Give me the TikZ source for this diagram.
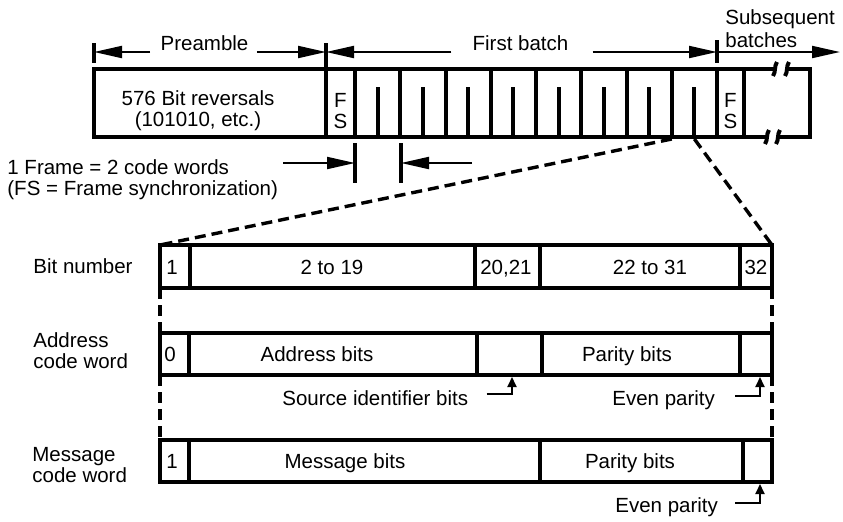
\documentclass[tikz,border=0pt]{standalone}
\usepackage{fontspec}
\setmainfont{Liberation Sans}
\usetikzlibrary{arrows.meta,calc}
\tikzset{
  txt/.style    = {inner sep=0pt, font=\fontsize{10.25}{10.5}\selectfont},
  wbox/.style   = {line width=2pt, line join=miter},
  dvd/.style    = {line width=2pt},
  tck/.style    = {line width=2pt},
  dim/.style    = {line width=1pt, -{Triangle[length=14pt,width=6pt]}},
  ldr/.style    = {line width=1pt, -{Triangle[length=5pt,width=4.5pt]}},
  zoomln/.style = {line width=1.7pt, dash pattern=on 5.5pt off 3pt},
  brk/.style    = {line width=2pt},
}
\begin{document}
\begin{tikzpicture}[x=0.5pt,y=-0.5pt]
  \useasboundingbox (0,0) rectangle (843,521);

  % batch row
  \draw[wbox] (773,69) -- (94,69) -- (94,137) -- (765,137);
  \draw[wbox] (789,69) -- (810,69) -- (810,137) -- (780,137);
  \foreach \x in {326,744} \draw[dvd] (\x,69) -- (\x,137);
  \foreach \k in {0,...,8} \draw[dvd] ({355+45.25*\k},69) -- ({355+45.25*\k},137);
  \foreach \k in {0,...,7} \draw[dvd] ({377.6+45.25*\k},87) -- ({377.6+45.25*\k},137);
  % break marks
  \foreach \bx/\by in {775/69, 787/69, 767/137, 778/137}
    \draw[brk] (\bx+2,\by-7) .. controls (\bx-1,\by-3) and (\bx+1,\by+3) .. (\bx-2,\by+7);

  \node[txt, align=center] (rev) at (198,111) {576 Bit reversals\\(101010, etc.)};
  \node[txt, align=center] (fs1) at (340.5,111) {F\\S};
  \node[txt, align=center] (fs2) at (730.5,111) {F\\S};

  % dimension arrows on top
  \node[txt, anchor=base] (pre) at (204.5,50) {Preamble};
  \node[txt, anchor=base] (fb) at (520.5,50) {First batch};
  \node[txt, anchor=north west, align=left] (sub) at (725,9) {Subsequent\\[1pt]batches};
  \coordinate (pl) at (94,52);
  \coordinate (pr) at (326,52);
  \coordinate (fr) at (717,52);
  \coordinate (se) at (840,52);
  \draw[tck] (94,43) -- (94,63);
  \draw[tck] (326,43) -- (326,69);
  \draw[tck] (717,40) -- (717,63);
  \draw[dim] ([xshift=-5pt]pre.west |- pl) -- (pl);
  \draw[dim] ([xshift=4pt]pre.east |- pl) -- (pr);
  \draw[dim] ([xshift=-10.5pt]fb.west |- pl) -- (pr);
  \draw[dim] ([xshift=12pt]fb.east |- pl) -- (fr);
  \draw[dim] (fr) -- (se);

  % one frame
  \node[txt, anchor=north west, align=left] (frm) at (7,159) {1 Frame = 2 code words\\(FS = Frame synchronization)};
  \coordinate (fwl) at (355,163);
  \coordinate (fwr) at (401,163);
  \coordinate (fwa) at (283,163);
  \coordinate (fwb) at (472,163);
  \draw[tck] (355,143) -- (355,183);
  \draw[tck] (401,143) -- (401,183);
  \draw[dim] (fwa) -- (fwl);
  \draw[dim] (fwb) -- (fwr);

  % zoom into one code word
  \coordinate (cwl) at (671.75,139);
  \coordinate (cwr) at (694.4,139);
  \coordinate (bnl) at (160,245);
  \coordinate (bnr) at (772,245);
  \draw[zoomln] (cwl) -- (bnl);
  \draw[zoomln] (cwr) -- (bnr);
  \foreach \x in {160,772} {
    \draw[zoomln] (\x,288) -- (\x,333);
    \draw[zoomln] (\x,375) -- (\x,440);
  }

  % code word boxes
  \foreach \yt/\yb in {245/288, 333/375, 440/482}
    \draw[wbox] (160,\yt) rectangle (772,\yb);
  \foreach \x in {190,475,540,740} \draw[dvd] (\x,245) -- (\x,288);
  \foreach \x in {189,477,542,740} \draw[dvd] (\x,333) -- (\x,375);
  \foreach \x in {189,540,743} \draw[dvd] (\x,440) -- (\x,482);

  \node[txt, anchor=base west] (bnlbl) at (33,273) {Bit number};
  \node[txt, anchor=north west, align=left] (adlbl) at (33,332) {Address\\code word};
  \node[txt, anchor=north west, align=left] (mslbl) at (32,447) {Message\\code word};

  \node[txt, anchor=base west] (b1) at (166,274) {1};
  \node[txt, anchor=base] (b2) at (332,274) {2 to 19};
  \node[txt, anchor=base] (b20) at (506,274) {20,21};
  \node[txt, anchor=base] (b22) at (650,274) {22 to 31};
  \node[txt, anchor=base] (b32) at (756,274) {32};

  \node[txt, anchor=base west] (a0) at (164,361.5) {0};
  \node[txt, anchor=base] (abits) at (317,361.5) {Address bits};
  \node[txt, anchor=base] (apar) at (627,361.5) {Parity bits};

  \node[txt, anchor=base west] (m1) at (166,468.5) {1};
  \node[txt, anchor=base] (mbits) at (345,468.5) {Message bits};
  \node[txt, anchor=base] (mpar) at (630,468.5) {Parity bits};

  % leaders
  \node[txt, anchor=base west] (src) at (282,405) {Source identifier bits};
  \node[txt, anchor=base west] (aev) at (612,405) {Even parity};
  \node[txt, anchor=base west] (mev) at (615,512) {Even parity};
  \coordinate (srcpt) at (512,377);
  \coordinate (aevpt) at (760,377);
  \coordinate (mevpt) at (760,484);
  \draw[ldr] ([xshift=9pt,yshift=2pt]src.east) -| (srcpt);
  \draw[ldr] ([xshift=10pt,yshift=2pt]aev.east) -| (aevpt);
  \draw[ldr] ([xshift=8.5pt,yshift=2pt]mev.east) -| (mevpt);
\end{tikzpicture}
\end{document}
